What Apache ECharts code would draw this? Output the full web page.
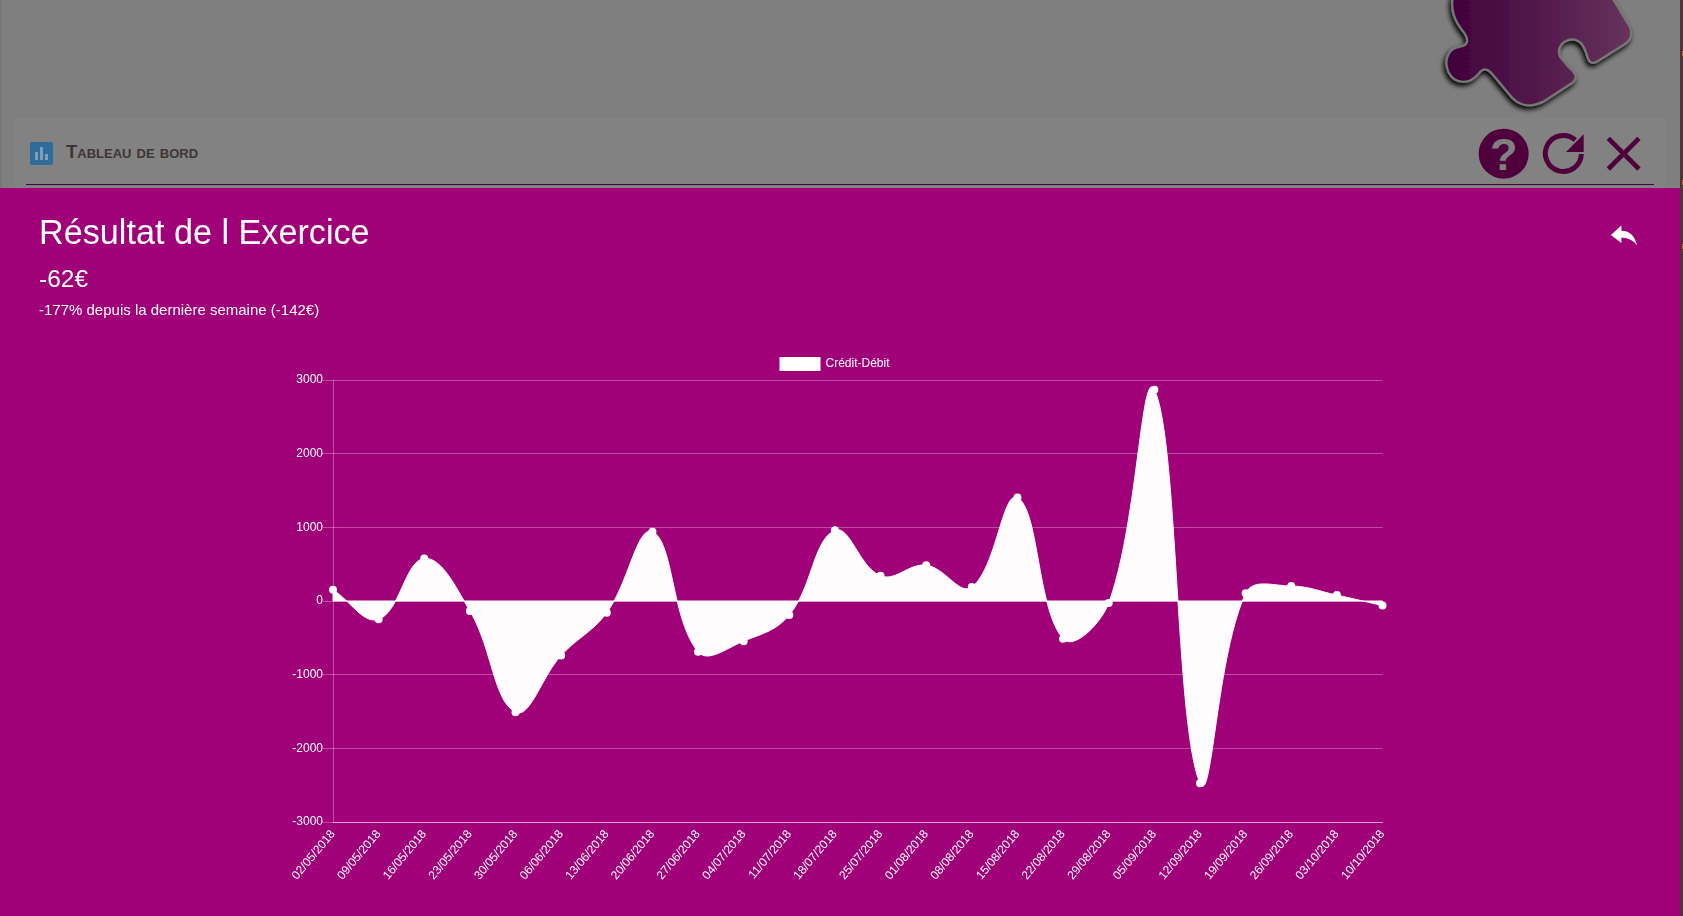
<!DOCTYPE html>
<html>
<head>
<meta charset="utf-8">
<title>Tableau de bord</title>
<script src="https://cdn.jsdelivr.net/npm/echarts@6/dist/echarts.min.js"></script>
<style>
html, body { margin: 0; padding: 0; width: 1683px; height: 916px; overflow: hidden; background: #7f7f7f; font-family: "Liberation Sans", Arial, sans-serif; }
#edge { position: absolute; left: 0; top: 0; width: 3px; height: 188px; background: linear-gradient(to right, #747474, #7f7f7f); }
#strip { position: absolute; left: 1680px; top: 0; width: 3px; height: 916px; background: #4e3338; }
.dot { position: absolute; left: 1682px; width: 1px; height: 5px; background: #e0561c; }
#panel { position: absolute; left: 14px; top: 118px; width: 1652px; height: 70px; background: #828282; }
#rule { position: absolute; left: 26px; top: 184px; width: 1628px; height: 1px; background: #4f003c; }
#dash-icon { position: absolute; left: 30px; top: 142px; }
#dash-title { position: absolute; left: 66px; top: 139px; font-size: 18.5px; line-height: 26px; font-weight: bold; font-variant: small-caps; color: #3f3535; }
#top-icons { position: absolute; left: 1380px; top: 0; }
#modal { position: absolute; left: 0; top: 188px; width: 1680px; height: 728px; background: #a00078; color: #fff; }
#modal h1 { position: absolute; left: 39px; top: 22px; margin: 0; font-size: 34.2px; line-height: 44px; font-weight: normal; white-space: nowrap; }
#amount { position: absolute; left: 39px; top: 75px; font-size: 24.5px; line-height: 32px; }
#delta { position: absolute; left: 39px; top: 112px; font-size: 15px; line-height: 20px; }
#back { position: absolute; left: 1610px; top: 35px; }
#chart { position: absolute; left: 0; top: 0; width: 1680px; height: 728px; }
</style>
</head>
<body>
<div id="edge"></div>
<div id="panel"></div>
<div id="rule"></div>
<svg id="dash-icon" width="23" height="23" viewBox="0 0 23 23">
  <rect width="23" height="23" rx="2" fill="#2f6b9b"/>
  <rect x="5" y="10" width="3" height="8" fill="#7f9fb8"/>
  <rect x="10" y="5" width="3" height="13" fill="#7f9fb8"/>
  <rect x="15" y="12" width="3" height="6" fill="#7f9fb8"/>
</svg>
<div id="dash-title">Tableau de bord</div>
<svg id="top-icons" width="303" height="188" viewBox="0 0 909 564">
  <defs>
    <linearGradient id="piece" x1="0" x2="1" y1="0" y2="0">
      <stop offset="0" stop-color="#40003a"/>
      <stop offset="1" stop-color="#66335c"/>
    </linearGradient>
    <filter id="shadow" x="-20%" y="-20%" width="140%" height="140%">
      <feDropShadow dx="-5" dy="9" stdDeviation="8" flood-color="#000" flood-opacity="1"/>
    </filter>
  </defs>
  <path d="M218 -10 C212 30 222 60 250 95 C268 120 265 135 240 140 C205 145 190 180 205 215 C222 250 265 258 295 222 C312 200 325 205 345 232 L395 292 C425 322 455 322 490 305 L575 250 C595 235 590 222 565 200 L540 170 C530 145 545 122 575 118 C600 118 612 135 622 170 C628 192 640 192 655 182 L735 132 C758 115 758 90 740 65 L695 -10 Z"
        fill="url(#piece)" stroke="#777" stroke-width="7" filter="url(#shadow)"/>
  <circle cx="371" cy="461" r="75" fill="#4f003c"/>
  <text x="371" y="510" text-anchor="middle" font-family="Liberation Sans" font-weight="bold" font-size="135" fill="#808080">?</text>
  <path d="M604 462 A54 54 0 1 1 586 420" fill="none" stroke="#4f003c" stroke-width="15"/>
  <path d="M611 403 L611 456 L558 456 Z" fill="#4f003c"/>
  <path d="M685 415 L777 507 M777 415 L685 507" stroke="#4f003c" stroke-width="14" fill="none"/>
</svg>
<div id="strip"></div>
<div class="dot" style="top:51px"></div>
<div class="dot" style="top:180px"></div>
<div class="dot" style="top:244px"></div>
<div id="modal">
  <div id="chart"></div>
  <h1>Résultat de l Exercice</h1>
  <div id="amount">-62€</div>
  <div id="delta">-177% depuis la dernière semaine (-142€)</div>
  <svg id="back" width="28" height="24" viewBox="0 0 32 26">
    <path d="M1 13 L13 2 L13 8 C22 8 28 13 31 25 C26 18 20 16 13 16 L13 22 Z" fill="#fff"/>
  </svg>
</div>
<script>
// dates des semaines
const labels = ['02/05/2018', '09/05/2018', '16/05/2018', '23/05/2018', '30/05/2018', '06/06/2018',
    '13/06/2018', '20/06/2018', '27/06/2018', '04/07/2018', '11/07/2018', '18/07/2018',
    '25/07/2018', '01/08/2018', '08/08/2018', '15/08/2018', '22/08/2018', '29/08/2018',
    '05/09/2018', '12/09/2018', '19/09/2018', '26/09/2018', '03/10/2018', '10/10/2018']
// Crédit-Débit
const creditDebit = [153, -248, 577, -135, -1509, -739, -158, 941, -689, -545, -189, 959,
    342, 486, 189, 1405, -514, -27, 2869, -2473, 104, 203, 80, -62]
const yMin = -3000
const yMax = 3000
const yInterval = 1000

// la courbe de line/smooth reste bornee entre deux points, ici elle depasse :
// on trace donc l'aire en custom, bezier tension 0.4 depuis api.coord
const tension = 0.4
function renderArea(params, api) {
    if (params.dataIndex !== 0) return null
    let pts = creditDebit.map((v, i) => api.coord([i, v]))
    let zero = api.coord([0, 0])[1]
    let cps = pts.map((p, i) => {
        let prev = pts[i - 1] || p
        let next = pts[i + 1] || p
        let d01 = Math.hypot(p[0] - prev[0], p[1] - prev[1])
        let d12 = Math.hypot(next[0] - p[0], next[1] - p[1])
        let total = d01 + d12 || 1
        let dx = next[0] - prev[0]
        let dy = next[1] - prev[1]
        return {
            before: [p[0] - tension * d01 / total * dx, p[1] - tension * d01 / total * dy],
            after: [p[0] + tension * d12 / total * dx, p[1] + tension * d12 / total * dy]
        }
    })
    let outline = [pts[0]]
    for (let i = 0; i < pts.length - 1; i++) {
        let a = pts[i], b = cps[i].after, c = cps[i + 1].before, d = pts[i + 1]
        for (let s = 1; s <= 24; s++) {
            let t = s / 24, u = 1 - t
            outline.push([
                u * u * u * a[0] + 3 * u * u * t * b[0] + 3 * u * t * t * c[0] + t * t * t * d[0],
                u * u * u * a[1] + 3 * u * u * t * b[1] + 3 * u * t * t * c[1] + t * t * t * d[1]
            ])
        }
    }
    outline.push([pts[pts.length - 1][0], zero], [pts[0][0], zero])
    return {
        type: 'polygon',
        shape: { points: outline },
        style: { fill: 'rgba(255,255,255,0.99)', stroke: '#fff', lineWidth: 1 }
    }
}

let myChart = echarts.init(document.getElementById('chart'))
myChart.setOption({
    animation: false,
    textStyle: { fontFamily: 'Liberation Sans' },
    legend: {
        left: 774.5,
        top: 164,
        itemWidth: 41,
        itemHeight: 14,
        itemGap: 7,
        icon: 'rect',
        textStyle: { color: '#fff', fontSize: 12 },
        data: ['Crédit-Débit']
    },
    grid: { left: 333, right: 297.5, top: 192, height: 442 },
    xAxis: {
        type: 'category',
        boundaryGap: false,
        data: labels,
        axisTick: { show: false },
        axisLine: { onZero: false, lineStyle: { color: 'rgba(255,255,255,0.5)' } },
        axisLabel: { interval: 0, rotate: 50, color: '#fff', fontSize: 12, margin: 10 },
        splitLine: { show: false }
    },
    yAxis: {
        type: 'value',
        min: yMin,
        max: yMax,
        interval: yInterval,
        axisLine: { show: true, lineStyle: { color: 'rgba(255,255,255,0.3)' } },
        axisTick: { show: true, length: 10, lineStyle: { color: 'rgba(255,255,255,0.3)' } },
        axisLabel: { color: '#fff', fontSize: 12, margin: 10, formatter: (v) => String(v) },
        splitLine: { show: true, lineStyle: { color: 'rgba(255,255,255,0.3)' } }
    },
    series: [
        {
            name: 'Crédit-Débit',
            type: 'custom',
            coordinateSystem: 'cartesian2d',
            renderItem: renderArea,
            encode: { x: 0, y: 1 },
            data: creditDebit.map((v, i) => [i, v]),
            itemStyle: { color: '#fff' },
            z: 2
        },
        {
            name: 'Crédit-Débit',
            type: 'line',
            data: creditDebit,
            symbol: 'circle',
            symbolSize: 8,
            showAllSymbol: true,
            itemStyle: { color: '#fff' },
            lineStyle: { width: 0 },
            z: 3
        }
    ]
})
</script>
</body>
</html>
